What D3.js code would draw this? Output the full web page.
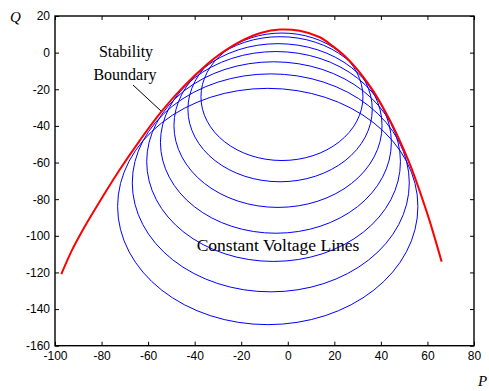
<!DOCTYPE html>
<html>
<head>
<meta charset="utf-8">
<script src="https://cdn.jsdelivr.net/npm/d3@7"></script>
<style>
  body { margin: 0; background: #fff; }
  .tick text { font-family: "Liberation Sans", Arial, sans-serif; font-size: 12px; fill: #000; }
  .tick line { stroke: #000; }
  .note { font-family: "Liberation Serif", "Times New Roman", serif; font-size: 16px; fill: #000; }
</style>
</head>
<body>
<div id="container"></div>
<script>
// stability boundary (red)
const boundaryP = [-97.3, -92.7, -88.9, -81.7, -72.3, -63.6, -54.3, -44.3, -34.4, -29.4, -20.3, -11.3, -3.4, 5.1, 13.8, 18.0, 24.8, 31.3, 36.9, 43.8, 48.1, 53.2, 57.7, 61.0, 66.1];
const boundaryQ = [-120.9, -107.8, -98.7, -83.2, -64.1, -48.0, -32.2, -17.9, -6.1, -1.0, 6.2, 10.9, 12.6, 11.9, 8.4, 4.8, -2.2, -11.4, -21.3, -36.8, -48.1, -63.3, -79.4, -92.1, -114.1];

// constant voltage lines (blue circles): centre and radius
const circleP = [-8.6, -7.3, -6.1, -5.1, -4.2, -3.3, -2.5];
const circleQ = [-84.0, -71.1, -59.5, -49.0, -39.8, -30.9, -24.1];
const circleR = [64.5, 59.5, 54.5, 49.6, 44.7, 39.6, 34.8];

const xTicks = [-100, -80, -60, -40, -20, 0, 20, 40, 60, 80];
const yTicks = [-160, -140, -120, -100, -80, -60, -40, -20, 0, 20];

const width = 489;
const height = 391;
const plot = { left: 55, right: 474, top: 16, bottom: 345.7 };

const svg = d3.select("#container")
  .append("svg")
  .attr("width", width)
  .attr("height", height);

const x = d3.scaleLinear().domain([-100, 80]).range([plot.left, plot.right]);
const y = d3.scaleLinear().domain([-160, 20]).range([plot.bottom, plot.top]);

// axes, ticks pointing inward like matlab
svg.append("g")
  .attr("transform", `translate(0,${plot.bottom})`)
  .call(d3.axisBottom(x).tickValues(xTicks).tickSizeInner(-4).tickSizeOuter(0).tickPadding(6))
  .call(g => g.select(".domain").remove());

svg.append("g")
  .attr("transform", `translate(0,${plot.top})`)
  .call(d3.axisTop(x).tickValues(xTicks).tickSizeInner(-4).tickSizeOuter(0).tickFormat(""))
  .call(g => g.select(".domain").remove());

svg.append("g")
  .attr("transform", `translate(${plot.left},0)`)
  .call(d3.axisLeft(y).tickValues(yTicks).tickSizeInner(-4).tickSizeOuter(0).tickPadding(5))
  .call(g => g.select(".domain").remove());

svg.append("g")
  .attr("transform", `translate(${plot.right},0)`)
  .call(d3.axisRight(y).tickValues(yTicks).tickSizeInner(-4).tickSizeOuter(0).tickFormat(""))
  .call(g => g.select(".domain").remove());

svg.selectAll(".tick text").text(function() { return this.textContent.replace("\u2212", "-"); });

svg.append("rect")
  .attr("x", plot.left).attr("y", plot.top)
  .attr("width", plot.right - plot.left).attr("height", plot.bottom - plot.top)
  .attr("fill", "none")
  .attr("stroke", "#000")
  .attr("stroke-width", 1.4);

// constant voltage circles
const circles = circleP.map((p, i) => ({ p: p, q: circleQ[i], r: circleR[i] }));
svg.selectAll("ellipse.volt")
  .data(circles)
  .join("ellipse")
    .attr("class", "volt")
    .attr("cx", d => x(d.p))
    .attr("cy", d => y(d.q))
    .attr("rx", d => x(d.p + d.r) - x(d.p))
    .attr("ry", d => y(d.q) - y(d.q + d.r))
    .attr("fill", "none")
    .attr("stroke", "#0000ff")
    .attr("stroke-width", 1);

// stability boundary
const boundary = boundaryP.map((p, i) => [p, boundaryQ[i]]);
svg.append("path")
  .datum(boundary)
  .attr("fill", "none")
  .attr("stroke", "#ff0000")
  .attr("stroke-width", 2)
  .attr("d", d3.line().x(d => x(d[0])).y(d => y(d[1])).curve(d3.curveCatmullRom));

// annotations
svg.append("text").attr("class", "note").attr("x", 126).attr("y", 57).attr("text-anchor", "middle").text("Stability");
svg.append("text").attr("class", "note").attr("x", 125).attr("y", 80).attr("text-anchor", "middle").text("Boundary");
svg.append("line")
  .attr("x1", 133).attr("y1", 85)
  .attr("x2", 161).attr("y2", 111)
  .attr("stroke", "#000").attr("stroke-width", 1);
svg.append("text").attr("class", "note").attr("x", 278).attr("y", 251)
  .attr("text-anchor", "middle").style("font-size", "17.5px").text("Constant Voltage Lines");

// axis labels
svg.append("text")
  .attr("x", 10).attr("y", 22)
  .style("font-family", "'Liberation Serif', 'Times New Roman', serif")
  .style("font-style", "italic")
  .style("font-size", "15px")
  .text("Q");
svg.append("text")
  .attr("x", 478).attr("y", 386)
  .style("font-family", "'Liberation Serif', 'Times New Roman', serif")
  .style("font-style", "italic")
  .style("font-size", "15px")
  .text("P");
</script>
</body>
</html>
